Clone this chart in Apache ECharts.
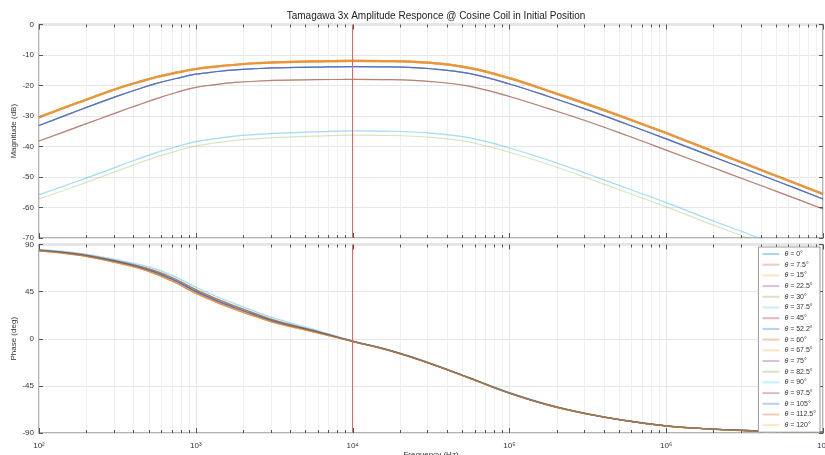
<!DOCTYPE html>
<html><head><meta charset="utf-8">
<script src="https://cdn.jsdelivr.net/npm/echarts@6/dist/echarts.min.js"></script>
<style>html,body{margin:0;padding:0;background:#fff}#c{width:825px;height:455px}</style>
</head><body><div id="c"></div>
<script>
// ---------- data ----------
const freqs = [100, 178, 316, 422, 562, 750, 1000, 1334, 1778, 2371, 3162, 5623, 10000, 17783, 31623, 56234,
  100000, 177828, 316228, 562341, 1000000, 1778279, 3162278, 5623413, 10000000];

const thetaLabels = ['0', '7.5', '15', '22.5', '30', '37.5', '45', '52.2', '60', '67.5',
  '75', '82.5', '90', '97.5', '105', '112.5', '120'];

// magnitude (dB) curves, one value per frequency
const magA  = [-30.4, -25.6, -21.0, -19.0, -17.2, -15.8, -14.6, -13.8, -13.2, -12.7, -12.4, -12.1, -11.9, -12.0, -12.6, -14.3,
  -17.6, -21.8, -26.2, -30.8, -35.6, -40.6, -45.6, -50.6, -55.6];
const magB  = [-33.1, -28.2, -23.5, -21.3, -19.3, -17.7, -16.3, -15.5, -14.9, -14.5, -14.2, -14.0, -13.8, -13.9, -14.5, -16.1,
  -19.5, -23.6, -28.0, -32.7, -37.5, -42.4, -47.3, -52.2, -57.2];
const magC  = [-38.2, -33.5, -28.8, -26.5, -24.3, -22.3, -20.6, -19.7, -19.0, -18.6, -18.3, -18.1, -18.0, -18.1, -18.7, -20.3,
  -23.6, -27.6, -31.8, -36.4, -41.2, -46.0, -50.8, -55.6, -60.5];
const magD1 = [-55.8, -51.3, -46.6, -44.2, -42.0, -40.1, -38.4, -37.4, -36.6, -36.1, -35.7, -35.2, -34.9, -35.0, -35.6, -37.2,
  -40.5, -44.5, -49.0, -53.7, -58.4, -63.4, -68.2, -73.2, -78.2];
const magD2 = [-57.2, -52.7, -48.0, -45.6, -43.4, -41.5, -39.8, -38.8, -38.0, -37.5, -37.1, -36.6, -36.3, -36.4, -37.0, -38.6,
  -41.9, -45.9, -50.4, -55.1, -59.8, -64.8, -69.6, -74.6, -79.6];

// phase (deg) curves
const phOrange = [84.0, 79.8, 72.5, 67.8, 61.5, 53.2, 43.5, 35.3, 28.0, 21.5, 15.5, 6.5, -2.6, -12.0, -24.0, -38.0,
  -52.0, -63.5, -72.0, -78.5, -83.3, -86.0, -87.7, -88.6, -89.2];
const phBlue   = [84.3, 80.4, 73.4, 68.8, 63.0, 55.0, 45.2, 36.9, 29.6, 22.9, 16.6, 7.2, -2.4, -11.8, -23.9, -37.9,
  -51.9, -63.4, -71.9, -78.4, -83.2, -85.9, -87.6, -88.6, -89.2];
const phRed    = [84.6, 81.0, 74.2, 69.8, 64.3, 56.6, 46.9, 38.6, 31.2, 24.3, 17.8, 8.0, -2.2, -11.6, -23.7, -37.7,
  -51.7, -63.2, -71.8, -78.3, -83.1, -85.9, -87.6, -88.6, -89.2];
const phCyan   = [85.0, 81.8, 75.4, 71.3, 66.2, 58.6, 49.2, 40.8, 33.4, 26.2, 19.6, 9.0, -2.0, -11.4, -23.4, -37.3,
  -51.3, -62.8, -71.5, -78.1, -83.0, -85.8, -87.5, -88.5, -89.1];

// which curve each theta uses
const magGroupOf = ['B','A','A','B','D2','D1','C','B','A','A','B','C','D1','C','B','A','A'];
const phGroupOf = ['blue','orange','orange','blue','red','cyan','red','blue','orange','orange',
  'blue','red','cyan','red','blue','orange','orange'];

const majorFreqs = [100, 1000, 10000, 100000, 1000000, 10000000];
const minorFreqs = [200,300,400,500,600,700,800,900, 2000,3000,4000,5000,6000,7000,8000,9000,
  20000,30000,40000,50000,60000,70000,80000,90000, 200000,300000,400000,500000,600000,700000,800000,900000,
  2000000,3000000,4000000,5000000,6000000,7000000,8000000,9000000];
const xTickLabels = {100:'10²', 1000:'10³', 10000:'10⁴', 100000:'10⁵', 1000000:'10⁶', 10000000:'10⁷'};
const magTicks = {min: -70, max: 0, step: 10};
const phTicks = {min: -90, max: 90, step: 45};
const cursorFreq = 10000;

// ---------- style ----------
const palette = ['rgba(0,114,189,0.3)','rgba(217,83,25,0.3)','rgba(237,177,32,0.3)',
  'rgba(126,47,142,0.3)','rgba(119,172,48,0.3)','rgba(77,190,238,0.3)','rgba(162,20,47,0.3)'];
const FONT = 'Liberation Sans, Arial, sans-serif';
const magMap = {A: magA, B: magB, C: magC, D1: magD1, D2: magD2};
const phMap = {orange: phOrange, blue: phBlue, red: phRed, cyan: phCyan};

function pairs(vals){ return freqs.map((f,i)=>[f, vals[i]]); }

function tickSeries(gi, ymin, ymax, withCursor){
  const data = majorFreqs.map(f=>[f,1]).concat(minorFreqs.map(f=>[f,0]));
  const s = {
    type: 'custom', xAxisIndex: gi, yAxisIndex: gi*2, silent: true, z: 1, clip: false,
    data: data,
    renderItem: function(params, api){
      const f = api.value(0), major = api.value(1);
      const b = api.coord([f, ymin]), t = api.coord([f, ymax]);
      const len = major ? 5 : 3;
      const x = Math.round(b[0]) + 0.5;
      const ch = [];
      if (!major) ch.push({type:'line', shape:{x1:x,y1:b[1],x2:x,y2:t[1]}, style:{stroke:'#f0f0f0', lineWidth:1}});
      ch.push({type:'line', shape:{x1:x,y1:b[1],x2:x,y2:b[1]-len}, style:{stroke:'#555', lineWidth:1}});
      ch.push({type:'line', shape:{x1:x,y1:t[1],x2:x,y2:t[1]+len}, style:{stroke:'#555', lineWidth:1}});
      return {type:'group', children: ch};
    }
  };
  if (withCursor) {
    s.markLine = {silent:true, symbol:'none', label:{show:false},
      lineStyle:{color:'#ff5a5a', width:1, type:'solid'},
      data:[{xAxis: cursorFreq}]};
  }
  return s;
}

const series = [];
series.push(tickSeries(0, magTicks.min, magTicks.max, true));
series.push(tickSeries(1, phTicks.min, phTicks.max, true));
thetaLabels.forEach((t,i)=>{
  const col = palette[i % 7];
  const g = magGroupOf[i];
  series.push({
    name: t, type:'line', xAxisIndex:0, yAxisIndex:0, data: pairs(magMap[g]),
    symbol:'none', smooth:0.4, color: col, z: 3,
    lineStyle:{color: col, width: g==='A' ? 2.2 : 1.2}
  });
  series.push({
    name: t, type:'line', xAxisIndex:1, yAxisIndex:2, data: pairs(phMap[phGroupOf[i]]),
    symbol:'none', smooth:0.4, color: col, z: 3,
    lineStyle:{color: col, width: 1.3}
  });
});

function xAxis(gi, showLabels){
  return {
    type:'log', logBase:10, gridIndex: gi, min: 100, max: 10000000,
    axisLine:{show:false}, axisTick:{show:false},
    splitLine:{show:true, lineStyle:{color:'#e6e6e6', width:1}},
    axisLabel:{show: showLabels, fontSize: 8, color:'#333', fontFamily: FONT, margin: 9,
      formatter: v => xTickLabels[Math.round(v)] || ''},
    name: showLabels ? 'Frequency (Hz)' : '', nameLocation:'middle', nameGap: 18, nameMoveOverlap: false,
    nameTextStyle:{fontSize: 8, color:'#333', fontFamily: FONT}
  };
}
function yAxes(gi, tk, name){
  return [{
    type:'value', gridIndex: gi, min: tk.min, max: tk.max, interval: tk.step, position:'left',
    axisLine:{show:false},
    axisTick:{show:true, inside:true, length:4, lineStyle:{color:'#555'}},
    splitLine:{show:true, lineStyle:{color:'#e6e6e6'}},
    axisLabel:{fontSize: 8, color:'#333', fontFamily: FONT, margin: 5},
    name: name, nameLocation:'middle', nameGap: 21, nameRotate: 90, nameMoveOverlap: false,
    nameTextStyle:{fontSize: 8, color:'#333', fontFamily: FONT}
  },{
    type:'value', gridIndex: gi, min: tk.min, max: tk.max, interval: tk.step, position:'right',
    axisLine:{show:false}, axisLabel:{show:false}, splitLine:{show:false},
    axisTick:{show:true, inside:true, length:4, lineStyle:{color:'#555'}}
  }];
}

const option = {
  animation: false,
  backgroundColor: '#fff',
  title: {text: 'Tamagawa 3x Amplitude Responce @ Cosine Coil in Initial Position',
    left: 431, top: 6, textAlign: 'center',
    textStyle:{fontSize: 10, fontWeight:'normal', color:'#222', fontFamily: FONT}},
  grid: [
    {left: 39, right: 2, top: 24.5, height: 213.5, show: true, borderColor:'#9a9a9a', borderWidth: 1.5,
      backgroundColor:'#fff', outerBoundsMode:'none', containLabel:false},
    {left: 39, right: 2, top: 244.5, height: 188.5, show: true, borderColor:'#9a9a9a', borderWidth: 1.5,
      backgroundColor:'#fff', outerBoundsMode:'none', containLabel:false}
  ],
  xAxis: [xAxis(0,false), xAxis(1,true)],
  yAxis: yAxes(0, magTicks, 'Magnitude (dB)').concat(yAxes(1, phTicks, 'Phase (deg)')),
  legend: {
    data: thetaLabels, orient:'vertical', right: 5, top: 247,
    backgroundColor:'#fff', borderColor:'#9a9a9a', borderWidth: 1,
    padding:[3,4,3,4], itemGap: 2.7, itemWidth: 17, itemHeight: 2, icon:'rect',
    formatter: n => '{i|θ} = ' + n + '°',
    textStyle:{fontSize: 7, lineHeight: 8, color:'#333', fontFamily: FONT,
      rich:{i:{fontStyle:'italic', fontSize: 7, lineHeight: 8, color:'#333', fontFamily: FONT}}}
  },
  series: series
};

const chart = echarts.init(document.getElementById('c'), null, {renderer:'canvas'});
chart.setOption(option);
</script>
</body></html>
